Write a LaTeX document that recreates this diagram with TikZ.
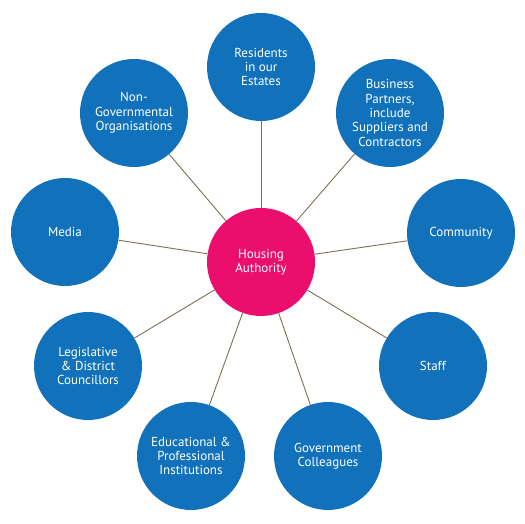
\documentclass[tikz,border=0pt]{standalone}
\usepackage{fontspec}
\setmainfont{PT Sans}
\usepackage{tikz}
\usetikzlibrary{positioning}
\definecolor{hablue}{HTML}{1172BB}
\definecolor{hapink}{HTML}{EC0E6C}
\definecolor{halink}{HTML}{7D6E55}

\begin{document}
\begin{tikzpicture}[x=1pt,y=1pt,
  party/.style={circle,fill=hablue,minimum size=108pt,inner sep=0pt,text=white,align=center,font=\fontsize{13}{14.3}\selectfont},
  hub/.style={party,fill=hapink},
  link/.style={draw=halink,line width=0.9pt}]
\useasboundingbox (0,0) rectangle (525,524);

\node[hub] (ha) at (261,262) {Housing\\Authority};

\node[party] (res) at (261,457) {Residents\\in our\\Estates};
\node[party] (biz) at (390,411) {Business\\Partners,\\include\\Suppliers and\\Contractors};
\node[party] (comm) at (461,291) {Community};
\node[party] (staff) at (433,158) {Staff};
\node[party] (gov) at (328,68) {Government\\Colleagues};
\node[party] (edu) at (191,68) {Educational \&\\Professional\\Institutions};
\node[party] (leg) at (88,158) {Legislative\\\& District\\Councillors};
\node[party] (media) at (65,292) {Media};
\node[party] (ngo) at (134,411) {Non-\\Governmental\\Organisations};

\draw[link] (ha)--(res);
\draw[link] (ha)--(biz);
\draw[link] (ha)--(comm);
\draw[link] (ha)--(staff);
\draw[link] (ha)--(gov);
\draw[link] (ha)--(edu);
\draw[link] (ha)--(leg);
\draw[link] (ha)--(media);
\draw[link] (ha)--(ngo);

\end{tikzpicture}
\end{document}
